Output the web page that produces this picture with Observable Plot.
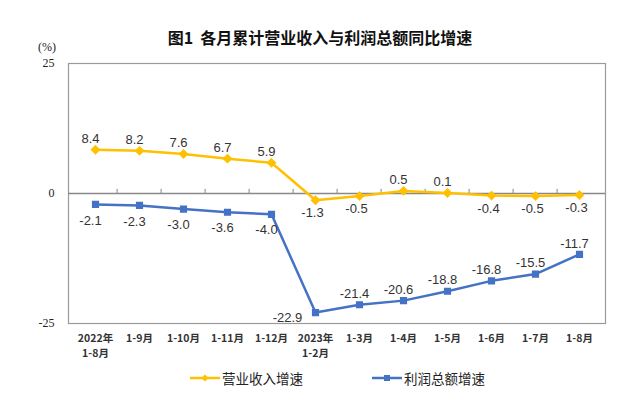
<!DOCTYPE html>
<html><head><meta charset="utf-8">
<script src="https://cdn.jsdelivr.net/npm/d3@7"></script>
<script src="https://cdn.jsdelivr.net/npm/@observablehq/plot@0.6"></script>
<style>
body{margin:0;background:#fff;}
#wrap{position:relative;width:640px;height:406px;font-family:"Noto Sans CJK SC",sans-serif;}
#chart{position:absolute;left:0;top:0;}
#title{position:absolute;top:26px;left:0;width:640px;text-align:center;font-size:16px;font-weight:bold;color:#111;line-height:22px;}
#unit{position:absolute;top:40px;left:38px;font-family:"Liberation Serif",serif;font-size:12px;color:#222;}
.leg{position:absolute;top:368px;height:20px;font-size:13.5px;color:#222;display:flex;align-items:center;}
.leg svg{margin-right:2px;}
</style></head>
<body>
<div id="wrap">
  <div id="chart"></div>
  <div id="title">图1&nbsp;&nbsp;各月累计营业收入与利润总额同比增速</div>
  <div id="unit">(%)</div>
  <div class="leg" id="leg1" style="left:190px"></div>
  <div class="leg" id="leg2" style="left:372px"></div>
</div>
<script>
const categories = ["2022年\n1-8月","1-9月","1-10月","1-11月","1-12月","2023年\n1-2月","1-3月","1-4月","1-5月","1-6月","1-7月","1-8月"];
const revenueGrowth = [8.4, 8.2, 7.6, 6.7, 5.9, -1.3, -0.5, 0.5, 0.1, -0.4, -0.5, -0.3];
const profitGrowth = [-2.1, -2.3, -3.0, -3.6, -4.0, -22.9, -21.4, -20.6, -18.8, -16.8, -15.5, -11.7];
const seriesNames = ["营业收入增速", "利润总额增速"];
const yTicks = [-25, 0, 25];

const YELLOW = "#FFC000", BLUE = "#4472C4";
const W = 640, H = 406, mL = 68, mR = 35, mT = 63, mB = 83;
const step = (W - mL - mR) / categories.length;

const rows = categories.map((c, i) => ({cat: c, i, rev: revenueGrowth[i], pro: profitGrowth[i]}));
const fmt = v => v.toFixed(1);
const labelFont = {fontFamily: "Liberation Sans, Arial, sans-serif", fontSize: 13, fill: "#333"};

const chart = Plot.plot({
  width: W, height: H,
  marginLeft: mL, marginRight: mR, marginTop: mT, marginBottom: mB,
  x: {type: "point", domain: categories, padding: 0.5, align: 0.5},
  y: {domain: [-25, 25]},
  marks: [
    Plot.frame({stroke: "#9a9a9a", strokeWidth: 1.2}),
    Plot.ruleY([0], {stroke: "#888", strokeWidth: 1.5}),
    Plot.ruleX(categories.slice(1), {x: d => d, y1: 0, y2: 0.8, dx: -step / 2, stroke: "#888", strokeWidth: 1}),
    Plot.axisY({ticks: yTicks, tickSize: 0, tickPadding: 14, tickFormat: d => String(d), label: null,
      fontFamily: "Liberation Serif, serif", fontSize: 12, fill: "#222"}),
    Plot.axisX({tickSize: 0, tickPadding: 8, label: null, fontFamily: "Noto Sans CJK SC, sans-serif",
      fontSize: 10.5, fontWeight: "bold", fill: "#333", lineHeight: 1.4}),
    // revenue series
    Plot.line(rows, {x: "cat", y: "rev", stroke: YELLOW, strokeWidth: 2.5}),
    Plot.dot(rows, {x: "cat", y: "rev", symbol: "diamond2", fill: YELLOW, stroke: YELLOW, r: 3.5}),
    Plot.text(rows.filter(d => d.rev >= 0), {x: "cat", y: "rev", text: d => fmt(d.rev), dx: -5, dy: -11, ...labelFont}),
    Plot.text(rows.filter(d => d.rev < 0), {x: "cat", y: "rev", text: d => fmt(d.rev), dx: -3, dy: 13, ...labelFont}),
    // profit series
    Plot.line(rows, {x: "cat", y: "pro", stroke: BLUE, strokeWidth: 2.5}),
    Plot.dot(rows, {x: "cat", y: "pro", symbol: "square", fill: BLUE, stroke: BLUE, r: 3.2}),
    Plot.text(rows.filter(d => d.i < 5), {x: "cat", y: "pro", text: d => fmt(d.pro), dx: -5, dy: 16, ...labelFont}),
    Plot.text(rows.filter(d => d.i === 5), {x: "cat", y: "pro", text: d => fmt(d.pro), dx: -28, dy: 5, ...labelFont}),
    Plot.text(rows.filter(d => d.i > 5), {x: "cat", y: "pro", text: d => fmt(d.pro), dx: -5, dy: -11, ...labelFont})
  ]
});
document.getElementById("chart").appendChild(chart);

function legendItem(el, name, color, shape) {
  const marker = shape === "diamond"
    ? `<path d="M15,-3.5L18.5,0L15,3.5L11.5,0Z" fill="${color}"/>`
    : `<rect x="12" y="-3" width="6" height="6" fill="${color}"/>`;
  el.innerHTML = `<svg width="30" height="10" viewBox="0 -5 30 10"><line x1="0" x2="30" y1="0" y2="0" stroke="${color}" stroke-width="2.5"/>${marker}</svg><span>${name}</span>`;
}
legendItem(document.getElementById("leg1"), seriesNames[0], YELLOW, "diamond");
legendItem(document.getElementById("leg2"), seriesNames[1], BLUE, "square");
</script>
</body></html>
